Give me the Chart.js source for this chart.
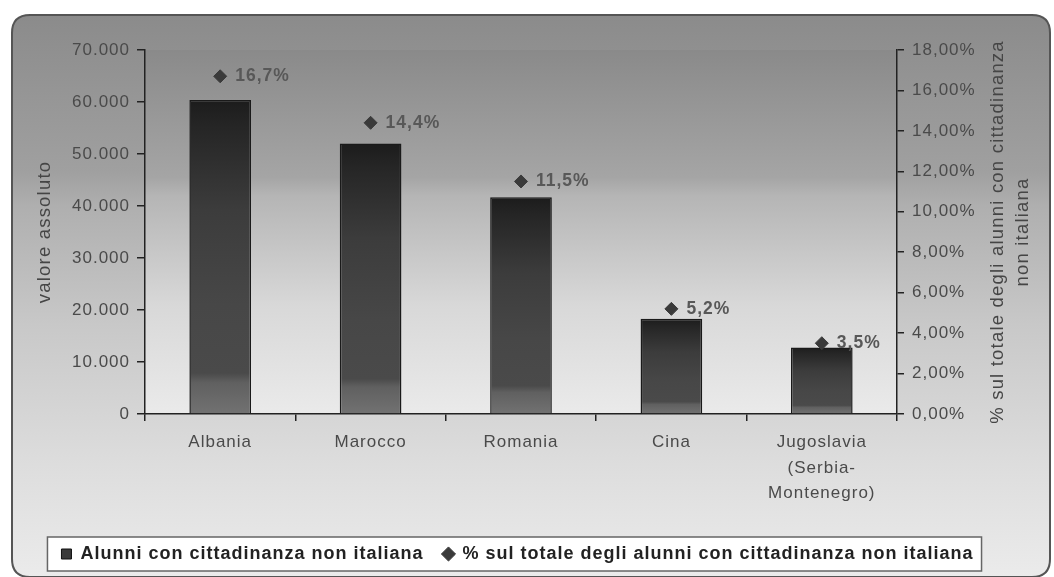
<!DOCTYPE html>
<html>
<head>
<meta charset="utf-8">
<script src="https://cdn.jsdelivr.net/npm/chart.js@4.4.1/dist/chart.umd.min.js"></script>
<style>
  body { margin: 0; background: #fff; }
</style>
</head>
<body>
<canvas id="alunniChart" width="1054" height="577"></canvas>
<script>
const paesi = ['Albania', 'Marocco', 'Romania', 'Cina', ['Jugoslavia', '(Serbia-', 'Montenegro)']];
const alunni = [60400, 52000, 41700, 18300, 12800];
const percentuali = [16.7, 14.4, 11.5, 5.2, 3.5];
const etichettePerc = ['16,7%', '14,4%', '11,5%', '5,2%', '3,5%'];
const serieNomi = ['Alunni con cittadinanza non italiana', '% sul totale degli alunni con cittadinanza non italiana'];
const titoloSinistra = 'valore assoluto';
const titoloDestra = ['% sul totale degli alunni con cittadinanza', 'non italiana'];

const FONT = "'Liberation Sans', Arial, sans-serif";

function migliaia(v) {
    return String(v).replace(/\B(?=(\d{3})+(?!\d))/g, '.');
}

function barGradient(ctx) {
    const chart = ctx.chart;
    if (!chart.chartArea || !ctx.parsed) return '#333';
    const y = chart.scales.y;
    const top = y.getPixelForValue(ctx.parsed.y);
    const bottom = y.getPixelForValue(0);
    const g = chart.ctx.createLinearGradient(0, top, 0, bottom);
    g.addColorStop(0, '#1c1c1c');
    g.addColorStop(0.08, '#252525');
    g.addColorStop(0.35, '#3c3c3c');
    g.addColorStop(0.65, '#474747');
    g.addColorStop(0.87, '#4a4a4a');
    g.addColorStop(0.9, '#606060');
    g.addColorStop(1, '#727272');
    return g;
}

function roundRect(c, x, y, w, h, r) {
    c.beginPath();
    c.moveTo(x + r, y);
    c.lineTo(x + w - r, y);
    c.quadraticCurveTo(x + w, y, x + w, y + r);
    c.lineTo(x + w, y + h - r);
    c.quadraticCurveTo(x + w, y + h, x + w - r, y + h);
    c.lineTo(x + r, y + h);
    c.quadraticCurveTo(x, y + h, x, y + h - r);
    c.lineTo(x, y + r);
    c.quadraticCurveTo(x, y, x + r, y);
    c.closePath();
}

// il testo dell'originale e' un po' spaziato
const spaziatura = {
    id: 'spaziatura',
    beforeUpdate(chart) { chart.ctx.letterSpacing = '1px'; },
    beforeDraw(chart) { chart.ctx.letterSpacing = '1px'; }
};

// sfondo grigio sfumato, area del grafico, riquadro della legenda e titoli degli assi
const sfondo = {
    id: 'sfondo',
    beforeDraw(chart) {
        const c = chart.ctx;
        const a = chart.chartArea;
        c.save();
        const g = c.createLinearGradient(0, 15, 0, 577);
        g.addColorStop(0, '#8b8b8b');
        g.addColorStop(0.28, '#a0a0a0');
        g.addColorStop(0.34, '#afafaf');
        g.addColorStop(0.55, '#c8c8c8');
        g.addColorStop(0.8, '#dddddd');
        g.addColorStop(1, '#ebebeb');
        roundRect(c, 12, 15, 1038, 562, 18);
        c.fillStyle = g;
        c.fill();
        c.lineWidth = 2;
        c.strokeStyle = '#555';
        c.stroke();

        const p = c.createLinearGradient(0, a.top, 0, a.bottom);
        p.addColorStop(0, '#8a8a8a');
        p.addColorStop(0.35, '#a5a5a5');
        p.addColorStop(0.4, '#b5b5b5');
        p.addColorStop(0.7, '#d8d8d8');
        p.addColorStop(1, '#eaeaea');
        c.fillStyle = p;
        c.fillRect(a.left, a.top, a.right - a.left, a.bottom - a.top);

        const boxes = chart.legend && chart.legend.legendHitBoxes;
        if (boxes && boxes.length) {
            const l = Math.min(...boxes.map(b => b.left)) - 14;
            const r = Math.max(...boxes.map(b => b.left + b.width)) + 8;
            const t = boxes[0].top - 8;
            const h = boxes[0].height + 16;
            c.fillStyle = '#fff';
            c.fillRect(l, t, r - l, h);
            c.lineWidth = 1.5;
            c.strokeStyle = '#666';
            c.strokeRect(l, t, r - l, h);
        }

        const cy = (a.top + a.bottom) / 2;
        c.fillStyle = '#454545';
        c.font = '18.5px ' + FONT;
        c.letterSpacing = '1.2px';
        c.textAlign = 'center';
        c.textBaseline = 'middle';
        const scritte = [[titoloSinistra, 45]].concat(titoloDestra.map((t, i) => [t, 998 + i * 25]));
        scritte.forEach(([t, x]) => {
            c.save();
            c.translate(x, cy);
            c.rotate(-Math.PI / 2);
            c.fillText(t, 0, 0);
            c.restore();
        });
        c.restore();
    }
};

// etichette delle percentuali accanto ai rombi
const etichette = {
    id: 'etichette',
    afterDatasetsDraw(chart) {
        const c = chart.ctx;
        const meta = chart.getDatasetMeta(1);
        c.save();
        c.fillStyle = '#585858';
        c.font = 'bold 17.5px ' + FONT;
        c.textBaseline = 'middle';
        meta.data.forEach((pt, i) => {
            c.fillText(etichettePerc[i], pt.x + 15, pt.y);
        });
        c.restore();
    }
};

new Chart(document.getElementById('alunniChart'), {
    data: {
        labels: paesi,
        datasets: [
            {
                type: 'bar',
                label: serieNomi[0],
                data: alunni,
                yAxisID: 'y',
                backgroundColor: barGradient,
                borderColor: '#1a1a1a',
                borderWidth: 1.5,
                barPercentage: 0.41,
                categoryPercentage: 1,
                order: 2
            },
            {
                type: 'line',
                label: serieNomi[1],
                data: percentuali,
                yAxisID: 'y1',
                showLine: false,
                pointStyle: 'rectRot',
                pointRadius: 6.5,
                backgroundColor: '#3a3a3a',
                borderColor: '#3a3a3a',
                order: 1
            }
        ]
    },
    options: {
        responsive: false,
        animation: false,
        layout: { padding: { top: 50, left: 30, right: 49, bottom: 4 } },
        plugins: {
            tooltip: { enabled: false },
            legend: {
                position: 'bottom',
                labels: {
                    color: '#222',
                    font: { family: FONT, size: 18, weight: 'bold' },
                    usePointStyle: true,
                    boxWidth: 10,
                    boxHeight: 10,
                    padding: 20,
                    generateLabels(chart) {
                        return chart.data.datasets.map((ds, i) => ({
                            text: ds.label,
                            fillStyle: '#3a3a3a',
                            strokeStyle: i === 0 ? '#111' : '#3a3a3a',
                            lineWidth: 1,
                            pointStyle: i === 0 ? 'rect' : 'rectRot',
                            fontColor: '#222',
                            datasetIndex: i
                        }));
                    }
                }
            }
        },
        scales: {
            x: {
                offset: true,
                grid: { offset: true, drawOnChartArea: false, color: '#222', tickLength: 7, lineWidth: 1.5 },
                border: { color: '#222', width: 1.5 },
                ticks: {
                    color: '#4a4a4a',
                    padding: 9,
                    font: { family: FONT, size: 17, lineHeight: 1.5 },
                    maxRotation: 0,
                    autoSkip: false
                },
                afterFit(scale) { scale.height = 111; }
            },
            y: {
                position: 'left',
                min: 0,
                max: 70000,
                ticks: {
                    stepSize: 10000,
                    color: '#4a4a4a',
                    padding: 7,
                    font: { family: FONT, size: 17 },
                    callback: v => migliaia(v)
                },
                grid: { drawOnChartArea: false, color: '#222', tickLength: 8, lineWidth: 1.5 },
                border: { color: '#222', width: 1.5 },
                afterFit(scale) { scale.width = 115; }
            },
            y1: {
                position: 'right',
                min: 0,
                max: 18,
                ticks: {
                    stepSize: 2,
                    color: '#4a4a4a',
                    padding: 8,
                    font: { family: FONT, size: 17 },
                    callback: v => v.toFixed(2).replace('.', ',') + '%'
                },
                grid: { drawOnChartArea: false, color: '#222', tickLength: 7, lineWidth: 1.5 },
                border: { color: '#222', width: 1.5 },
                afterFit(scale) { scale.width = 108; }
            }
        }
    },
    plugins: [spaziatura, sfondo, etichette]
});
</script>
</body>
</html>
